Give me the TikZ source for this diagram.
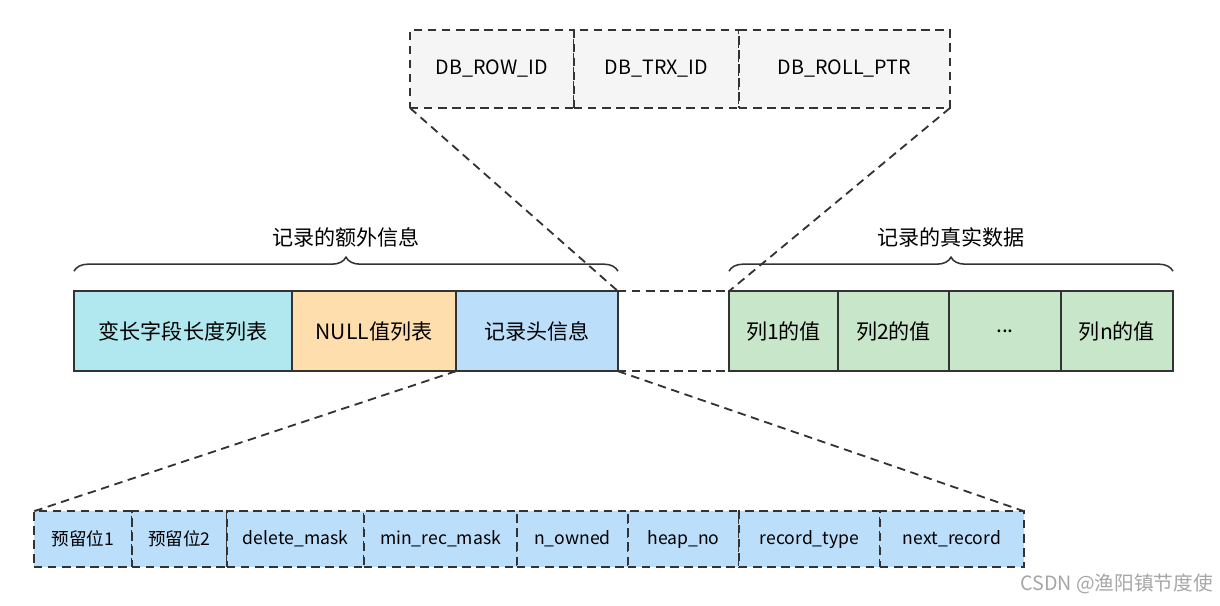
\documentclass[tikz,border=0pt]{standalone}
\usepackage{fontspec}
\setmainfont{Noto Sans CJK SC}
\usetikzlibrary{positioning,decorations.pathreplacing}
\definecolor{cellcyan}{HTML}{B1E8F0}
\definecolor{cellorange}{HTML}{FFDEAD}
\definecolor{cellblue}{HTML}{BBDEFB}
\definecolor{cellgreen}{HTML}{C8E6C9}
\definecolor{cellgray}{HTML}{F5F5F5}
\definecolor{lineclr}{HTML}{333333}
\tikzset{
    cell/.style={rectangle, draw=lineclr, line width=1.3pt, outer sep=0pt, inner sep=0pt,
        minimum height=2cm, font=\fontsize{15}{17}\selectfont},
    hidcell/.style={rectangle, draw=lineclr, dash pattern=on 6pt off 4pt, line width=1.3pt, outer sep=0pt,
        inner sep=0pt, fill=cellgray, minimum height=1.95cm, font=\fontsize{14}{16}\selectfont},
    hdrcell/.style={rectangle, draw=lineclr, dash pattern=on 6pt off 4pt, line width=1.3pt, outer sep=0pt,
        inner sep=0pt, fill=cellblue, minimum height=1.4cm, font=\fontsize{12.5}{14}\selectfont},
    zoomline/.style={draw=lineclr, dash pattern=on 6pt off 4pt, line width=1.3pt},
    curly/.style={decorate, decoration={brace, amplitude=10pt}, draw=lineclr, line width=1.1pt},
}
\begin{document}
\begin{tikzpicture}
    \useasboundingbox (0,0) rectangle (30.5,-15.15);
    % main record
    \node[cell, fill=cellcyan, minimum width=5.45cm, anchor=north west]
        at (1.85,-7.28) (varlen) {变长字段长度列表};
    \node[cell, fill=cellorange, minimum width=4.1cm, right=0pt of varlen]
        (nulls) {NULL值列表};
    \node[cell, fill=cellblue, minimum width=4.05cm, right=0pt of nulls]
        (header) {记录头信息};
    \node[cell, draw=none, minimum width=2.775cm, right=0pt of header]
        (hidden) {};
    \node[cell, fill=cellgreen, minimum width=2.725cm, right=0pt of hidden]
        (col1) {列1的值};
    \node[cell, fill=cellgreen, minimum width=2.775cm, right=0pt of col1]
        (col2) {列2的值};
    \node[cell, fill=cellgreen, minimum width=2.8cm, right=0pt of col2]
        (dots) {...};
    \node[cell, fill=cellgreen, minimum width=2.8cm, right=0pt of dots]
        (coln) {列n的值};
    \draw[zoomline] (hidden.north west) -- (hidden.north east);
    \draw[zoomline] (hidden.south west) -- (hidden.south east);
    % hidden columns
    \node[hidcell, minimum width=4.1cm, anchor=north west]
        at (10.25,-0.75) (rowid) {DB\_ROW\_ID};
    \node[hidcell, minimum width=4.125cm, right=0pt of rowid]
        (trxid) {DB\_TRX\_ID};
    \node[hidcell, minimum width=5.275cm, right=0pt of trxid]
        (rollptr) {DB\_ROLL\_PTR};
    \draw[zoomline] (rowid.south west) -- (hidden.north west);
    \draw[zoomline] (rollptr.south east) -- (hidden.north east);
    % record header bits
    \node[hdrcell, minimum width=2.45cm, anchor=north west]
        at (0.85,-12.78) (res1) {预留位1};
    \node[hdrcell, minimum width=2.375cm, right=0pt of res1]
        (res2) {预留位2};
    \node[hdrcell, minimum width=3.425cm, right=0pt of res2]
        (delmask) {delete\_mask};
    \node[hdrcell, minimum width=3.825cm, right=0pt of delmask]
        (minrec) {min\_rec\_mask};
    \node[hdrcell, minimum width=2.775cm, right=0pt of minrec]
        (owned) {n\_owned};
    \node[hdrcell, minimum width=2.775cm, right=0pt of owned]
        (heapno) {heap\_no};
    \node[hdrcell, minimum width=3.525cm, right=0pt of heapno]
        (rectype) {record\_type};
    \node[hdrcell, minimum width=3.6cm, right=0pt of rectype]
        (nextrec) {next\_record};
    \draw[zoomline] (header.south west) -- (res1.north west);
    \draw[zoomline] (header.south east) -- (nextrec.north east);
    % braces
    \draw[curly] ([yshift=0.5cm]varlen.north west) -- ([yshift=0.5cm]header.north east)
        node[midway, above=0.45cm, font=\fontsize{15}{17}\selectfont] (extra) {记录的额外信息};
    \draw[curly] ([yshift=0.5cm]col1.north west) -- ([yshift=0.5cm]coln.north east)
        node[midway, above=0.45cm, font=\fontsize{15}{17}\selectfont] (real) {记录的真实数据};
    \node[text=black!35, anchor=east, font=\fontsize{14}{16}\selectfont]
        at (30.45,-14.6) (mark) {CSDN @渔阳镇节度使};
\end{tikzpicture}
\end{document}
